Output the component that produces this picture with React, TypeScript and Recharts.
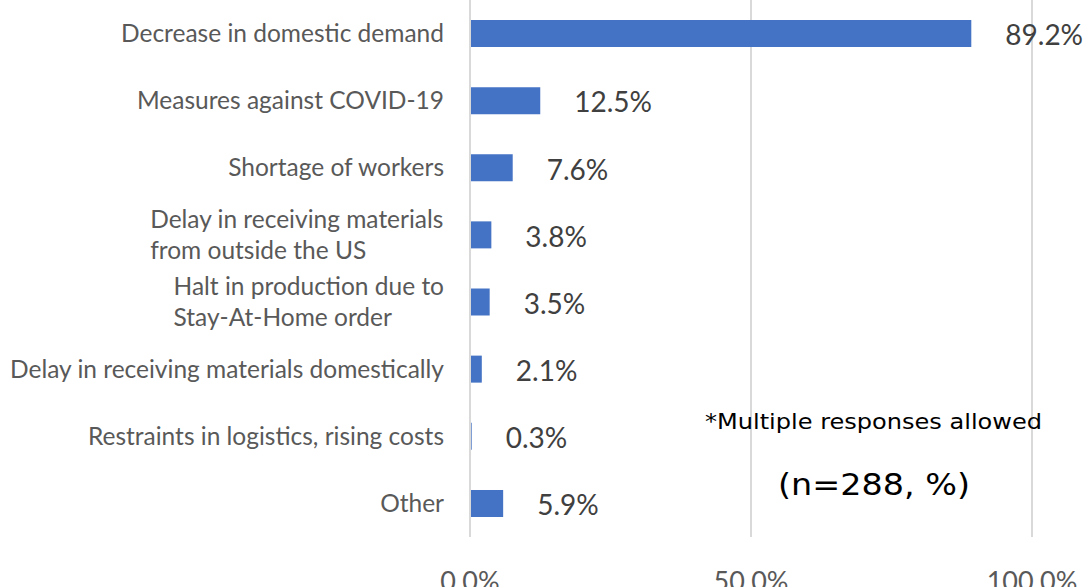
import React from "react";
import { BarChart, Bar, XAxis, YAxis, CartesianGrid, LabelList } from "recharts";

const categories = [
  "Decrease in domestic demand",
  "Measures against COVID-19",
  "Shortage of workers",
  "Delay in receiving materials\nfrom outside the US",
  "Halt in production due to\nStay-At-Home order",
  "Delay in receiving materials domestically",
  "Restraints in logistics, rising costs",
  "Other",
];
const values = [89.2, 12.5, 7.6, 3.8, 3.5, 2.1, 0.3, 5.9];
const xTicks = [0, 50, 100];
const noteLine1 = "*Multiple responses allowed";
const noteLine2 = "(n=288, %)";

const data = categories.map((c, i) => ({ name: c, value: values[i] }));

const FONT = "Lato";
const CAT_SIZE = 24.5;
const VAL_SIZE = 28;

let ctx: CanvasRenderingContext2D | null = null;
function measure(text: string, size: number): number {
  if (typeof document === "undefined") return text.length * size * 0.5;
  if (!ctx) ctx = document.createElement("canvas").getContext("2d");
  if (!ctx) return text.length * size * 0.5;
  ctx.font = `${size}px ${FONT}`;
  return ctx.measureText(text).width;
}

const CatTick = (props: any) => {
  const { x, y, payload } = props;
  const lines = String(payload.value).split("\n");
  if (lines.length === 1) {
    return (
      <text x={x} y={y} dy="0.35em" textAnchor="end" fill="#595959" fontSize={CAT_SIZE} fontFamily={FONT}>
        {lines[0]}
      </text>
    );
  }
  const w = Math.max(...lines.map((l) => measure(l, CAT_SIZE)));
  const lh = 31.5;
  const start = y - ((lines.length - 1) * lh) / 2;
  return (
    <text x={x - w} y={start} textAnchor="start" fill="#595959" fontSize={CAT_SIZE} fontFamily={FONT}>
      {lines.map((l, i) => (
        <tspan key={i} x={x - w} y={start + i * lh} dy="0.35em">
          {l}
        </tspan>
      ))}
    </text>
  );
};

const XTick = (props: any) => {
  const { x, y, payload } = props;
  return (
    <text x={x} y={y} dy={46} textAnchor="middle" fill="#595959" fontSize={27} fontFamily={FONT}>
      {`${Number(payload.value).toFixed(1)}%`}
    </text>
  );
};

const ValueLabel = (props: any) => {
  const { x, y, width, height, value } = props;
  return (
    <text
      x={x + width + 34}
      y={y + height / 2 + 2}
      dy="0.35em"
      textAnchor="start"
      fill="#404040"
      fontSize={VAL_SIZE}
      fontFamily={FONT}
    >
      {`${Number(value).toFixed(1)}%`}
    </text>
  );
};

export default function App() {
  return (
    <div style={{ position: "absolute", left: 0, top: 0, width: 1087, height: 587, background: "#fff" }}>
      <BarChart
        width={1087}
        height={587}
        data={data}
        layout="vertical"
        margin={{ top: 0, right: 55, bottom: 0, left: 0 }}
        barCategoryGap={20}
      >
        <CartesianGrid horizontal={false} stroke="#d9d9d9" strokeWidth={2} />
        <XAxis
          type="number"
          domain={[0, 100]}
          ticks={xTicks}
          axisLine={false}
          tickLine={false}
          tick={<XTick />}
          height={50}
          interval={0}
        />
        <YAxis
          type="category"
          dataKey="name"
          width={470}
          axisLine={{ stroke: "#d9d9d9", strokeWidth: 2 }}
          tickLine={false}
          tickSize={0}
          tickMargin={26}
          tick={<CatTick />}
          interval={0}
        />
        <Bar dataKey="value" fill="#4472C4" barSize={27} isAnimationActive={false}>
          <LabelList dataKey="value" content={<ValueLabel />} />
        </Bar>
      </BarChart>
      <svg
        width={1087}
        height={587}
        style={{ position: "absolute", left: 0, top: 0, pointerEvents: "none" }}
      >
        <text
          x={705}
          y={429}
          fontSize={22}
          fontFamily="DejaVu Sans"
          fill="#000"
          textLength={337}
          lengthAdjust="spacingAndGlyphs"
        >
          {noteLine1}
        </text>
        <text
          x={778}
          y={495}
          fontSize={30}
          fontFamily="DejaVu Sans"
          fill="#000"
          textLength={192}
          lengthAdjust="spacingAndGlyphs"
        >
          {noteLine2}
        </text>
      </svg>
    </div>
  );
}
